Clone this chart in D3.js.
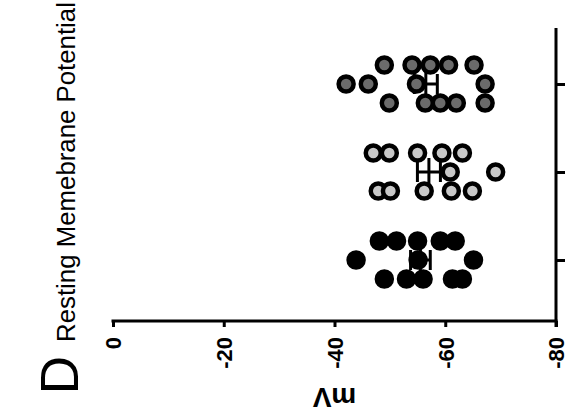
<!DOCTYPE html>
<html><head><meta charset="utf-8">
<script src="https://cdn.jsdelivr.net/npm/d3@7"></script>
<style>
body{margin:0;background:#fff}
svg{display:block}
text{font-family:Arial,"Liberation Sans",Helvetica,sans-serif;fill:#000}
</style>
</head><body>
<svg id="chart" width="565" height="418"></svg>
<script>
// ---- data ----
const groups = ["Group 1", "Group 2", "Group 3"];
const group1Values = [-49.0, -51.2, -55.1, -61.3, -63.1, -43.9, -56.0, -61.8, -48.1, -53.0, -55.0, -59.1, -65.1];
const group2Values = [-47.9, -55.0, -60.9, -63.1, -50.1, -47.0, -59.4, -69.1, -49.9, -56.2, -61.1, -64.9];
const group3Values = [-49.0, -54.0, -57.3, -62.0, -67.2, -42.1, -46.1, -59.1, -65.2, -49.9, -54.8, -56.4, -60.6, -67.2];
const tickValues = [0, -20, -40, -60, -80];
const tickLabels = ["0", "-20", "-40", "-60", "-80"];
const titleText = "Resting Memebrane Potential";
const unitText = "mV";
const panelText = "D";

// ---- styles ----
const fills = ["#000000", "#c8c8c8", "#6b6b6b"];
const seriesValues = [group1Values, group2Values, group3Values];

const svg = d3.select("#chart");
const left = 113, right = 556, axisY = 321, frameTop = 28;

const x = d3.scaleLinear().domain([0, -80]).range([left, right]);
const y = d3.scalePoint().domain(groups).range([260, 84]);

// ---- axes ----
const xAxis = d3.axisBottom(x)
  .tickValues(tickValues)
  .tickFormat((d, i) => tickLabels[i])
  .tickSizeInner(6).tickSizeOuter(0);
const gx = svg.append("g").attr("transform", `translate(0,${axisY})`).call(xAxis);
gx.select(".domain").attr("stroke", "#000").attr("stroke-width", 3)
  .attr("d", `M${left - 1.5},0H${right + 1.5}`);
gx.selectAll(".tick line").attr("stroke", "#000").attr("stroke-width", 3);
gx.selectAll(".tick text")
  .attr("transform", "rotate(-90)")
  .attr("x", -16).attr("y", 0).attr("dy", "0.36em")
  .style("text-anchor", "end")
  .style("font-size", "22px").style("font-weight", "bold")
  .style("font-family", "Arial, 'Liberation Sans', sans-serif");

const yAxis = d3.axisRight(y).tickSizeInner(9).tickSizeOuter(0).tickFormat("");
const gy = svg.append("g").attr("transform", `translate(${right},0)`).call(yAxis);
gy.select(".domain").attr("stroke", "#000").attr("stroke-width", 3)
  .attr("d", `M0,${frameTop}V${axisY + 6}`);
gy.selectAll(".tick line").attr("stroke", "#000").attr("stroke-width", 3);

// ---- swarm layout (cluster nearby values, spread across lanes) ----
function laneOffsets(values, width) {
  const order = values.map((v, i) => i).sort((a, b) => Math.abs(values[a]) - Math.abs(values[b]));
  const out = new Array(values.length).fill(0);
  let i = 0;
  while (i < order.length) {
    const start = Math.abs(values[order[i]]);
    let j = i;
    while (j + 1 < order.length && Math.abs(values[order[j + 1]]) - start < width) j++;
    const n = j - i + 1;
    for (let k = 0; k < n; k++) out[order[i + k]] = n === 1 ? 0 : -1 + 2 * k / (n - 1);
    i = j + 1;
  }
  return out;
}

const laneSpread = 19;
const plot = svg.append("g");

seriesValues.forEach((vals, gi) => {
  const cy = y(groups[gi]);
  const mean = d3.mean(vals);
  const sem = d3.deviation(vals) / Math.sqrt(vals.length);
  const g = plot.append("g");
  g.append("line").attr("x1", x(mean)).attr("x2", x(mean))
    .attr("y1", cy - 14).attr("y2", cy + 14)
    .attr("stroke", "#000").attr("stroke-width", 3);
  g.append("line").attr("x1", x(mean - sem)).attr("x2", x(mean + sem))
    .attr("y1", cy).attr("y2", cy)
    .attr("stroke", "#000").attr("stroke-width", 3);
  [mean - sem, mean + sem].forEach(v => {
    g.append("line").attr("x1", x(v)).attr("x2", x(v))
      .attr("y1", cy - 10).attr("y2", cy + 10)
      .attr("stroke", "#000").attr("stroke-width", 3);
  });
  const offs = laneOffsets(vals, 2.5);
  g.selectAll("circle").data(vals).join("circle")
    .attr("cx", d => x(d))
    .attr("cy", (d, i) => cy + offs[i] * laneSpread)
    .attr("r", 7.5)
    .attr("fill", fills[gi])
    .attr("stroke", "#000")
    .attr("stroke-width", 4.5);
});

// ---- texts ----
svg.append("text")
  .attr("transform", "translate(75,172) rotate(-90)")
  .attr("text-anchor", "middle")
  .style("font-size", "25.8px")
  .text(titleText);

svg.append("text")
  .attr("transform", `translate(${(left + right) / 2},388) rotate(180)`)
  .attr("text-anchor", "middle")
  .style("font-size", "28px").style("font-weight", "bold")
  .text(unitText);

svg.append("text")
  .attr("transform", "translate(78,375) rotate(-90)")
  .attr("text-anchor", "middle")
  .style("font-size", "53px")
  .text(panelText);
</script>
</body></html>
